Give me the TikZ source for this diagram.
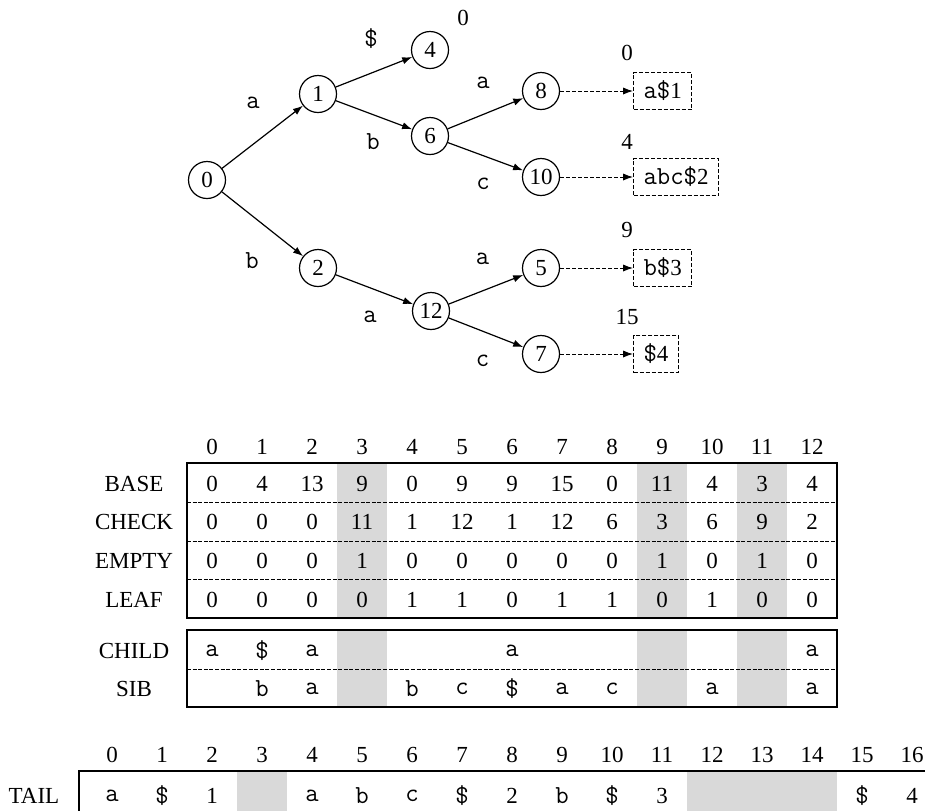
\documentclass[tikz,border=0pt]{standalone}
\usepackage{fontspec}
\setmainfont{Liberation Serif}
\usepackage{tikz}
\usetikzlibrary{arrows.meta}

\newcommand{\rmdig}[1]{{\normalfont\fontsize{11.5}{13}\selectfont #1}}

\tikzset{
	st/.style={draw, circle, line width=0.6pt, minimum size=18.5pt, inner sep=0pt},
	tl/.style={draw, dash pattern=on 2pt off 1pt, line width=0.5pt, anchor=west,
		font=\ttfamily\fontsize{13}{15}\selectfont, minimum height=18.5pt, inner xsep=5pt},
	lab/.style={font=\ttfamily\fontsize{13}{15}\selectfont},
	ch/.style={font=\ttfamily\fontsize{13}{15}\selectfont},
	arr/.style={-{Latex[length=5pt,width=3.6pt]}, line width=0.6pt},
	leaf/.style={-{Latex[length=5pt,width=3.6pt]}, dash pattern=on 2pt off 1pt, line width=0.5pt},
	tbl/.style={line width=0.8pt},
	sep/.style={dash pattern=on 2pt off 0.8pt, line width=0.5pt}
}

\begin{document}
\begin{tikzpicture}[x=0.5pt, y=-0.5pt, font=\fontsize{11.5}{13}\selectfont]
		\useasboundingbox (0,0) rectangle (925,810);
		\clip (0,0) rectangle (925,810);
		%\draw [help lines] (0,0) grid (925,810);
		
		% trie
		\node [st] (n0) at (207,180) {0};
		\node [st] (n1) at (318,94) {1};
		\node [st] (n2) at (318,268) {2};
		\node [st] (n4) at (430,50) {4};
		\node [st] (n6) at (430,136) {6};
		\node [st] (n12) at (431,311) {12};
		\node [st] (n8) at (541,91) {8};
		\node [st] (n10) at (541,177) {10};
		\node [st] (n5) at (541,268) {5};
		\node [st] (n7) at (541,354) {7};
		
		\draw [arr] (n0) -- node [lab, xshift=-4.75pt, yshift=17pt] {a} (n1);
		\draw [arr] (n0) -- node [lab, xshift=-5.25pt, yshift=-18.5pt] {b} (n2);
		\draw [arr] (n1) -- node [lab, xshift=-1.5pt, yshift=16.5pt] {\$} (n4);
		\draw [arr] (n1) -- node [lab, xshift=-0.5pt, yshift=-13.5pt] {b} (n6);
		\draw [arr] (n6) -- node [lab, xshift=-1.25pt, yshift=15.25pt] {a} (n8);
		\draw [arr] (n6) -- node [lab, xshift=-1.25pt, yshift=-13.75pt] {c} (n10);
		\draw [arr] (n2) -- node [lab, xshift=-2.25pt, yshift=-13.75pt] {a} (n12);
		\draw [arr] (n12) -- node [lab, xshift=-1.75pt, yshift=15.25pt] {a} (n5);
		\draw [arr] (n12) -- node [lab, xshift=-1.75pt, yshift=-14.25pt] {c} (n7);
		
		% tails
		\node [tl] (t1) at (633,91) {a\$\rmdig{1}};
		\node [tl] (t2) at (633,177) {abc\$\rmdig{2}};
		\node [tl] (t3) at (633,268) {b\$\rmdig{3}};
		\node [tl] (t4) at (633,354) {\$\rmdig{4}};
		\draw [leaf] (n8) -- (t1);
		\draw [leaf] (n10) -- (t2);
		\draw [leaf] (n5) -- (t3);
		\draw [leaf] (n7) -- (t4);
		
		\node (p0) at (463,18) {0};
		\node (p1) at (627,53) {0};
		\node (p2) at (627,142) {4};
		\node (p3) at (627,230) {9};
		\node (p4) at (627,317) {15};
		
		% BASE / CHECK / EMPTY / LEAF
		\fill [gray!30] (337,463) rectangle (387,618);
		\fill [gray!30] (637,463) rectangle (687,618);
		\fill [gray!30] (737,463) rectangle (787,618);
		\draw [tbl] (187,463) rectangle (837,618);
		\draw [sep] (187,502) -- (837,502);
		\draw [sep] (187,541) -- (837,541);
		\draw [sep] (187,579.5) -- (837,579.5);
		
		\node (h0) at (212,447) {0};
		\node (h1) at (262,447) {1};
		\node (h2) at (312,447) {2};
		\node (h3) at (362,447) {3};
		\node (h4) at (412,447) {4};
		\node (h5) at (462,447) {5};
		\node (h6) at (512,447) {6};
		\node (h7) at (562,447) {7};
		\node (h8) at (612,447) {8};
		\node (h9) at (662,447) {9};
		\node (h10) at (712,447) {10};
		\node (h11) at (762,447) {11};
		\node (h12) at (812,447) {12};
		
		\node (lbase) at (134,484) {BASE};
		\node (b0) at (212,484) {0};
		\node (b1) at (262,484) {4};
		\node (b2) at (312,484) {13};
		\node (b3) at (362,484) {9};
		\node (b4) at (412,484) {0};
		\node (b5) at (462,484) {9};
		\node (b6) at (512,484) {9};
		\node (b7) at (562,484) {15};
		\node (b8) at (612,484) {0};
		\node (b9) at (662,484) {11};
		\node (b10) at (712,484) {4};
		\node (b11) at (762,484) {3};
		\node (b12) at (812,484) {4};
		
		\node (lcheck) at (134,522) {CHECK};
		\node (c0) at (212,522) {0};
		\node (c1) at (262,522) {0};
		\node (c2) at (312,522) {0};
		\node (c3) at (362,522) {11};
		\node (c4) at (412,522) {1};
		\node (c5) at (462,522) {12};
		\node (c6) at (512,522) {1};
		\node (c7) at (562,522) {12};
		\node (c8) at (612,522) {6};
		\node (c9) at (662,522) {3};
		\node (c10) at (712,522) {6};
		\node (c11) at (762,522) {9};
		\node (c12) at (812,522) {2};
		
		\node (lempty) at (134,561) {EMPTY};
		\node (e0) at (212,561) {0};
		\node (e1) at (262,561) {0};
		\node (e2) at (312,561) {0};
		\node (e3) at (362,561) {1};
		\node (e4) at (412,561) {0};
		\node (e5) at (462,561) {0};
		\node (e6) at (512,561) {0};
		\node (e7) at (562,561) {0};
		\node (e8) at (612,561) {0};
		\node (e9) at (662,561) {1};
		\node (e10) at (712,561) {0};
		\node (e11) at (762,561) {1};
		\node (e12) at (812,561) {0};
		
		\node (lleaf) at (134,600) {LEAF};
		\node (l0) at (212,600) {0};
		\node (l1) at (262,600) {0};
		\node (l2) at (312,600) {0};
		\node (l3) at (362,600) {0};
		\node (l4) at (412,600) {1};
		\node (l5) at (462,600) {1};
		\node (l6) at (512,600) {0};
		\node (l7) at (562,600) {1};
		\node (l8) at (612,600) {1};
		\node (l9) at (662,600) {0};
		\node (l10) at (712,600) {1};
		\node (l11) at (762,600) {0};
		\node (l12) at (812,600) {0};
		
		% CHILD / SIB
		\fill [gray!30] (337,630) rectangle (387,707);
		\fill [gray!30] (637,630) rectangle (687,707);
		\fill [gray!30] (737,630) rectangle (787,707);
		\draw [tbl] (187,630) rectangle (837,707);
		\draw [sep] (187,669) -- (837,669);
		
		\node (lchild) at (134,651) {CHILD};
		\node [ch] (ch0) at (212,651) {a};
		\node [ch] (ch1) at (262,651) {\$};
		\node [ch] (ch2) at (312,651) {a};
		\node [ch] (ch6) at (512,651) {a};
		\node [ch] (ch12) at (812,651) {a};
		
		\node (lsib) at (134,689) {SIB};
		\node [ch] (sb1) at (262,689) {b};
		\node [ch] (sb2) at (312,689) {a};
		\node [ch] (sb4) at (412,689) {b};
		\node [ch] (sb5) at (462,689) {c};
		\node [ch] (sb6) at (512,689) {\$};
		\node [ch] (sb7) at (562,689) {a};
		\node [ch] (sb8) at (612,689) {c};
		\node [ch] (sb10) at (712,689) {a};
		\node [ch] (sb12) at (812,689) {a};
		
		% TAIL
		\fill [gray!30] (237,771) rectangle (287,830);
		\fill [gray!30] (687,771) rectangle (837,830);
		\draw [tbl] (79,771) rectangle (950,830);
		
		\node (th0) at (112,755) {0};
		\node (th1) at (162,755) {1};
		\node (th2) at (212,755) {2};
		\node (th3) at (262,755) {3};
		\node (th4) at (312,755) {4};
		\node (th5) at (362,755) {5};
		\node (th6) at (412,755) {6};
		\node (th7) at (462,755) {7};
		\node (th8) at (512,755) {8};
		\node (th9) at (562,755) {9};
		\node (th10) at (612,755) {10};
		\node (th11) at (662,755) {11};
		\node (th12) at (712,755) {12};
		\node (th13) at (762,755) {13};
		\node (th14) at (812,755) {14};
		\node (th15) at (862,755) {15};
		\node (th16) at (912,755) {16};
		
		\node (ltail) at (34,796) {TAIL};
		\node [ch] (ta0) at (112,796) {a};
		\node [ch] (ta1) at (162,796) {\$};
		\node (ta2) at (212,796) {1};
		\node [ch] (ta4) at (312,796) {a};
		\node [ch] (ta5) at (362,796) {b};
		\node [ch] (ta6) at (412,796) {c};
		\node [ch] (ta7) at (462,796) {\$};
		\node (ta8) at (512,796) {2};
		\node [ch] (ta9) at (562,796) {b};
		\node [ch] (ta10) at (612,796) {\$};
		\node (ta11) at (662,796) {3};
		\node [ch] (ta15) at (862,796) {\$};
		\node (ta16) at (912,796) {4};
	\end{tikzpicture}
\end{document}
